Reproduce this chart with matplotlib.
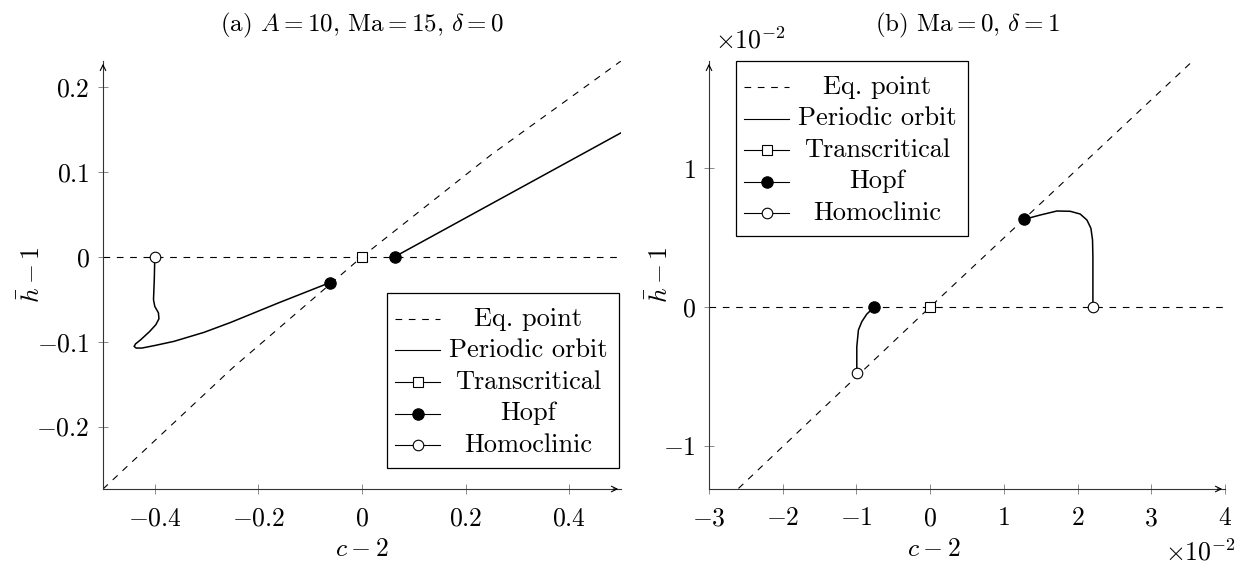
import numpy as np
import matplotlib.pyplot as plt
from matplotlib.patches import Rectangle
from matplotlib.lines import Line2D

plt.rcParams['mathtext.fontset'] = 'cm'
plt.rcParams['font.family'] = ['cmr10', 'DejaVu Serif']
plt.rcParams['axes.unicode_minus'] = False

W, H = 1244, 570

# (a) A = 10, Ma = 15, delta = 0
eq_a_c = [-0.5, -0.25, 0.0, 0.25, 0.5]
eq_a_h = [-0.2735, -0.131, 0.0, 0.1205, 0.2306]
orbit_a_c = [-0.400, -0.401, -0.4025, -0.400, -0.393, -0.392, -0.398, -0.410, -0.427,
             -0.437, -0.440, -0.436, -0.425, -0.400, -0.363, -0.305, -0.2535, -0.16, -0.0627]
orbit_a_h = [0.0, -0.027, -0.0506, -0.0585, -0.066, -0.073, -0.080, -0.088, -0.0976,
             -0.1025, -0.1055, -0.1075, -0.1075, -0.1045, -0.0996, -0.089, -0.0773, -0.054, -0.0306]
orbit_a2_c = [0.063, 0.5]
orbit_a2_h = [0.0, 0.146]
trans_a_c, trans_a_h = [0.0], [0.0]
hopf_a_c, hopf_a_h = [-0.0627, 0.063], [-0.0306, 0.0]
homo_a_c, homo_a_h = [-0.4], [0.0]
xticks_a = [-0.4, -0.2, 0.0, 0.2, 0.4]
xlabels_a = ['$-0.4$', '$-0.2$', '$0$', '$0.2$', '$0.4$']
yticks_a = [-0.2, -0.1, 0.0, 0.1, 0.2]
ylabels_a = ['$-0.2$', '$-0.1$', '$0$', '$0.1$', '$0.2$']

# (b) Ma = 0, delta = 1   (both axes in units of 1e-2)
eq_b_c = [-2.6, 0.0, 3.55]
eq_b_h = [-1.31, 0.0, 1.77]
orbit_b1_c = [1.276, 1.493, 1.720, 1.900, 2.036, 2.127, 2.181, 2.203, 2.208, 2.208]
orbit_b1_h = [0.633, 0.664, 0.693, 0.691, 0.671, 0.628, 0.568, 0.484, 0.363, 0.0]
orbit_b2_c = [-0.995, -0.995, -0.973, -0.927, -0.859, -0.756]
orbit_b2_h = [-0.479, -0.287, -0.166, -0.106, -0.051, 0.0]
trans_b_c, trans_b_h = [0.0], [0.0]
hopf_b_c, hopf_b_h = [-0.756, 1.276], [0.0, 0.633]
homo_b_c, homo_b_h = [-0.995, 2.208], [-0.479, 0.0]
xticks_b = [-3, -2, -1, 0, 1, 2, 3, 4]
xlabels_b = ['$-3$', '$-2$', '$-1$', '$0$', '$1$', '$2$', '$3$', '$4$']
yticks_b = [-1, 0, 1]
ylabels_b = ['$-1$', '$0$', '$1$']

legend_names = ['Eq. point', 'Periodic orbit', 'Transcritical', 'Hopf', 'Homoclinic']

FS = 18.5
LFS = 19
TFS = 18
dash = dict(ls=(0, (6, 6)), lw=0.8, color='k')
solid = dict(lw=1.1, color='k')
sq = dict(ls='none', marker='s', ms=7.6, mfc='white', mec='k', mew=0.8)
hopf = dict(ls='none', marker='o', ms=8.2, mfc='k', mec='k', mew=0.8)
homo = dict(ls='none', marker='o', ms=7.6, mfc='white', mec='k', mew=0.8)


def px_axes(fig, left, top, right, bottom):
    return fig.add_axes([left / W, 1 - bottom / H, (right - left) / W, (bottom - top) / H])


def style_axes(ax, xlab_x, ylab_x):
    for s in ['top', 'right']:
        ax.spines[s].set_visible(False)
    for s in ['left', 'bottom']:
        ax.spines[s].set_linewidth(0.8)
        ax.spines[s].set_color('#333333')
    ax.tick_params(direction='inout', length=7, width=0.6, color='#777777',
                   labelsize=FS)
    ax.tick_params(axis='x', pad=9)
    ax.tick_params(axis='y', pad=6)
    ax.annotate('', xy=(1.0, 0), xytext=(0.98, 0), xycoords='axes fraction',
                arrowprops=dict(arrowstyle='->', lw=0.8, color='k'))
    ax.annotate('', xy=(0, 1.0), xytext=(0, 0.98), xycoords='axes fraction',
                arrowprops=dict(arrowstyle='->', lw=0.8, color='k'))
    ax.set_xlabel('$c-2$', fontsize=FS, va='center')
    ax.set_ylabel(r'$\bar{h}-1$', fontsize=FS, va='center')
    ax.xaxis.set_label_coords(xlab_x, -0.14)
    ax.yaxis.set_label_coords(ylab_x, 0.5)


def draw_legend(fig, left, top, right, bottom, rows):
    fig.add_artist(Rectangle((left / W, 1 - bottom / H), (right - left) / W,
                             (bottom - top) / H, transform=fig.transFigure,
                             fill=False, lw=0.9, ec='k'))
    styles = [None, None, sq, hopf, homo]
    for i, name in enumerate(legend_names):
        y = 1 - rows[i] / H
        x0, x1 = (left + 8) / W, (left + 53) / W
        if i == 0:
            fig.add_artist(Line2D([x0, x1], [y, y], transform=fig.transFigure, **dash))
        else:
            fig.add_artist(Line2D([x0, x1], [y, y], transform=fig.transFigure, lw=0.8, color='k'))
        if styles[i] is not None:
            fig.add_artist(Line2D([(x0 + x1) / 2], [y], transform=fig.transFigure, **styles[i]))
        fig.text((left + 141) / W, y, name, ha='center', va='center', fontsize=LFS)


fig = plt.figure(figsize=(W / 100, H / 100), dpi=100)

ax = px_axes(fig, 103, 61, 621, 489)
ax.plot([-0.5, 0.5], [0, 0], **dash)
ax.plot(eq_a_c, eq_a_h, **dash)
ax.plot(orbit_a_c, orbit_a_h, **solid)
ax.plot(orbit_a2_c, orbit_a2_h, **solid)
ax.plot(trans_a_c, trans_a_h, **sq)
ax.plot(hopf_a_c, hopf_a_h, **hopf)
ax.plot(homo_a_c, homo_a_h, **homo)
ax.set_xlim(-0.5, 0.5)
ax.set_ylim(-0.2735, 0.2306)
ax.set_xticks(xticks_a, xlabels_a)
ax.set_yticks(yticks_a, ylabels_a)
style_axes(ax, 0.5, -0.137)
fig.text(362 / W, 1 - 25 / H, r'(a) $A=10$, $\mathrm{Ma}=15$, $\delta=0$',
         ha='center', va='center', fontsize=TFS)
draw_legend(fig, 387, 293, 619, 468, [319, 350, 382, 413.5, 445])

bx = px_axes(fig, 709, 61, 1225, 489)
bx.plot([-3, 4], [0, 0], **dash)
bx.plot(eq_b_c, eq_b_h, **dash)
bx.plot(orbit_b1_c, orbit_b1_h, **solid)
bx.plot(orbit_b2_c, orbit_b2_h, **solid)
bx.plot(trans_b_c, trans_b_h, **sq)
bx.plot(hopf_b_c, hopf_b_h, **hopf)
bx.plot(homo_b_c, homo_b_h, **homo)
bx.set_xlim(-3, 4)
bx.set_ylim(-1.314, 1.776)
bx.set_xticks(xticks_b, xlabels_b)
bx.set_yticks(yticks_b, ylabels_b)
style_axes(bx, 0.436, -0.095)
fig.text(967 / W, 1 - 25 / H, r'(b) $\mathrm{Ma}=0$, $\delta=1$',
         ha='center', va='center', fontsize=TFS)
fig.text(750 / W, 1 - 40 / H, r'$\times10^{-2}$', ha='center', va='center', fontsize=FS)
fig.text(1236 / W, 1 - 552 / H, r'$\times10^{-2}$', ha='right', va='center', fontsize=FS)
draw_legend(fig, 736, 61, 968, 236, [87, 118.5, 150, 181.5, 213])

fig.savefig('out.png', dpi=100)
